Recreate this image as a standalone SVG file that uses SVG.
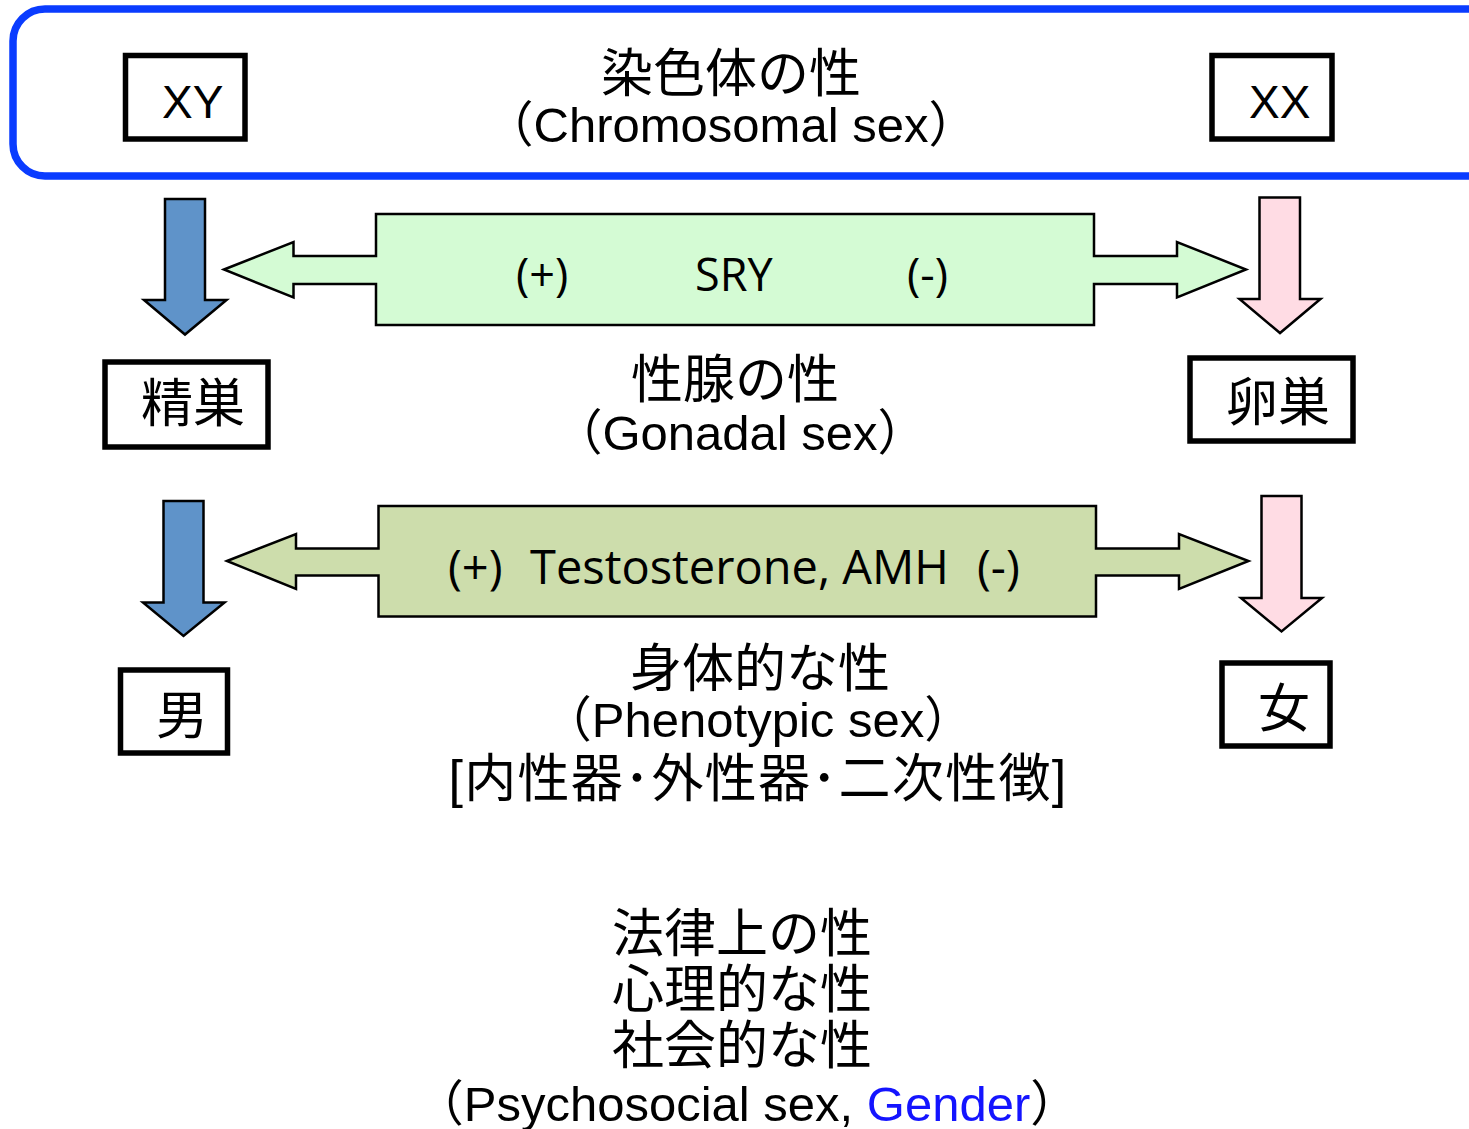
<svg xmlns="http://www.w3.org/2000/svg" width="1469" height="1129" viewBox="0 0 1469 1129">
<style>
.box{fill:#fff;stroke:#000;stroke-width:5.5}
.jp{font-family:"Liberation Sans","Noto Sans CJK JP",sans-serif;fill:#000}
.lat{font-family:"Liberation Sans","Noto Sans CJK JP",sans-serif;fill:#000}
.lbl{font-family:"Open Sans","Noto Sans",sans-serif;fill:#000}
.arr{stroke:#000;stroke-width:2.5;stroke-linejoin:miter}
.blue{fill:#5F93C9}
.pink{fill:#FFDCE4}
.mid{text-anchor:middle}
</style>
<rect x="0" y="0" width="1469" height="1129" fill="#fff"/>
<g id="chromosomal-frame">
<rect x="13" y="9" width="1490" height="167" rx="32" ry="32" fill="none" stroke="#0A3CFF" stroke-width="7.5"/>
</g>
<g id="label-chromosomal">
<text class="jp mid" x="731" y="92" font-size="52">染色体の性</text>
<text class="lat mid" x="731" y="142" font-size="49">（Chromosomal sex）</text>
</g>
<g id="node-xy">
<rect class="box" x="125.5" y="55.5" width="119.5" height="83.5"/>
<text class="lat" x="162" y="118" font-size="46">XY</text>
</g>
<g id="node-xx">
<rect class="box" x="1212" y="55.5" width="120" height="83.5"/>
<text class="lat" x="1249" y="118" font-size="46">XX</text>
</g>
<g id="node-testis">
<rect class="box" x="105" y="362" width="163" height="85"/>
<text class="jp" x="141" y="422" font-size="52">精巣</text>
</g>
<g id="node-ovary">
<rect class="box" x="1190" y="358" width="163" height="83"/>
<text class="jp" x="1226" y="421" font-size="52">卵巣</text>
</g>
<g id="label-gonadal">
<text class="jp mid" x="735" y="398" font-size="52">性腺の性</text>
<text class="lat mid" x="740" y="450" font-size="49">（Gonadal sex）</text>
</g>
<g id="node-male">
<rect class="box" x="120.5" y="670" width="107" height="83"/>
<text class="jp" x="156" y="734" font-size="52">男</text>
</g>
<g id="node-female">
<rect class="box" x="1222" y="663" width="108" height="83"/>
<text class="jp" x="1258" y="727" font-size="52">女</text>
</g>
<g id="label-phenotypic">
<text class="jp mid" x="760" y="687" font-size="52">身体的な性</text>
<text class="lat mid" x="758" y="737" font-size="49">（Phenotypic sex）</text>
<text class="jp mid" x="758" y="797" font-size="52" letter-spacing="1.3">[内性器･外性器･二次性徴]</text>
</g>
<g id="label-psychosocial">
<text class="jp mid" x="742" y="952" font-size="52">法律上の性</text>
<text class="jp mid" x="742" y="1008" font-size="52">心理的な性</text>
<text class="jp mid" x="742" y="1064" font-size="52">社会的な性</text>
<text class="lat mid" x="747" y="1121" font-size="49">（Psychosocial sex, <tspan fill="#1414FF">Gender</tspan>）</text>
</g>
<g id="connectors">
<polygon class="arr blue" points="165,199 205,199 205,300 226.5,300 185,334.5 144,300 165,300"/>
<polygon class="arr pink" points="1259.5,197.5 1300,197.5 1300,299 1320.5,299 1280,333 1239.5,299 1259.5,299"/>
<polygon class="arr" fill="#D4FBD4" points="224,269.5 293.5,242 293.5,256 376,256 376,214 1094,214 1094,256 1177,256 1177,242 1246,269.5 1177,297.5 1177,284 1094,284 1094,325 376,325 376,284 293.5,284 293.5,297.5"/>
<text class="lbl" y="291" font-size="45"><tspan x="516">(+)</tspan><tspan x="695">SRY</tspan><tspan x="907">(-)</tspan></text>
<polygon class="arr blue" points="163.5,501 203.5,501 203.5,602.5 224.5,602.5 183.5,636 143,602.5 163.5,602.5"/>
<polygon class="arr pink" points="1261.5,496 1301.5,496 1301.5,598 1322,598 1281.5,631.5 1241,598 1261.5,598"/>
<polygon class="arr" fill="#CDDDAC" points="227,561 296,534 296,548.5 378.5,548.5 378.5,506 1096,506 1096,548.5 1179,548.5 1179,534 1248.5,561 1179,589 1179,575.5 1096,575.5 1096,616.5 378.5,616.5 378.5,575.5 296,575.5 296,589"/>
<text class="lbl" y="584" font-size="47"><tspan x="448">(+)</tspan><tspan x="530">Testosterone, AMH</tspan><tspan x="977">(-)</tspan></text>
</g>
</svg>
